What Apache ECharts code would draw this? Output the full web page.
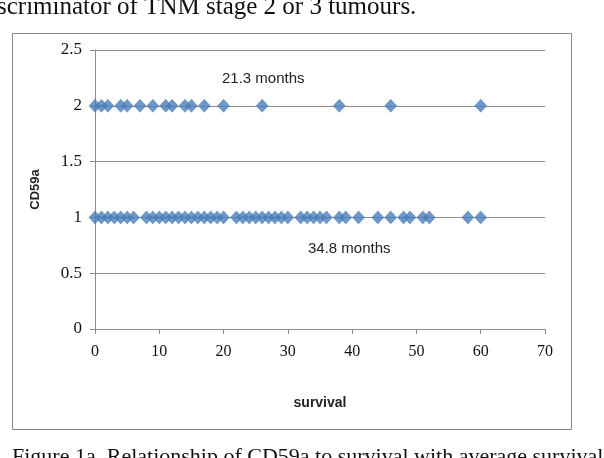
<!DOCTYPE html>
<html>
<head>
<meta charset="utf-8">
<script src="https://cdn.jsdelivr.net/npm/echarts@6/dist/echarts.min.js"></script>
<style>
html,body{margin:0;padding:0;background:#fff;}
#c{width:604px;height:458px;}
</style>
</head>
<body>
<div id="c"></div>
<script>
// survival (months) of cases with CD59a = 2
const survivalCD59a2 = [0, 1, 2, 4, 5, 7, 9, 11, 12, 14, 15, 17, 20, 26, 38, 46, 60];
// survival (months) of cases with CD59a = 1
const survivalCD59a1 = [0, 1, 2, 3, 4, 5, 6, 8, 9, 10, 11, 12, 13, 14, 15, 16, 17, 18, 19, 20,
  22, 23, 24, 25, 26, 27, 28, 29, 30, 32, 33, 34, 35, 36, 38, 39, 41, 44, 46, 48, 49, 51, 52, 58, 60];
const xTicks = [0, 10, 20, 30, 40, 50, 60, 70];
const yTicks = [0, 0.5, 1, 1.5, 2, 2.5];
const annotations = ["21.3 months", "34.8 months"];
const xTitle = "survival";
const yTitle = "CD59a";
const topText = "scriminator of TNM stage 2 or 3 tumours.";
const captionText = "Figure 1a. Relationship of CD59a to survival with average survival se";

const points = survivalCD59a2.map(v => [v, 2]).concat(survivalCD59a1.map(v => [v, 1]));

const chart = echarts.init(document.getElementById('c'), null, {renderer: 'canvas'});
const axisGray = '#8c8c8c';
chart.setOption({
  animation: false,
  backgroundColor: '#fff',
  grid: {left: 95, right: 59, top: 50, bottom: 129, containLabel: false},
  xAxis: {
    type: 'value', min: xTicks[0], max: xTicks[xTicks.length - 1], interval: 10,
    name: xTitle, nameLocation: 'middle', nameGap: 67,
    nameTextStyle: {fontFamily: 'Liberation Sans', fontWeight: 'bold', fontSize: 14, color: '#222'},
    axisLine: {show: true, onZero: false, lineStyle: {color: axisGray, width: 1}},
    axisTick: {show: true, inside: false, length: 5, lineStyle: {color: axisGray}},
    axisLabel: {margin: 15, fontFamily: 'Liberation Serif', fontSize: 16, color: '#111'},
    splitLine: {show: false}
  },
  yAxis: {
    type: 'value', min: yTicks[0], max: yTicks[yTicks.length - 1], interval: 0.5,
    name: yTitle, nameLocation: 'middle', nameGap: 53, nameRotate: 90,
    nameTextStyle: {fontFamily: 'Liberation Sans', fontWeight: 'bold', fontSize: 13, color: '#222'},
    axisLine: {show: true, lineStyle: {color: axisGray, width: 1}},
    axisTick: {show: true, inside: false, length: 5, lineStyle: {color: axisGray}},
    axisLabel: {margin: 13, fontFamily: 'Liberation Serif', fontSize: 17, color: '#111'},
    splitLine: {show: true, lineStyle: {color: axisGray, width: 1}}
  },
  series: [{
    type: 'scatter',
    data: points,
    symbol: 'diamond',
    symbolSize: [12, 13],
    itemStyle: {color: '#4a7ebb', borderColor: '#3d6fa8', borderWidth: 0.5}
  }],
  graphic: [
    {type: 'rect', shape: {x: 12.5, y: 33.5, width: 559, height: 396},
     style: {fill: 'none', stroke: '#888', lineWidth: 1}, z: -1},
    {type: 'text', left: 222, top: 71,
     style: {text: annotations[0], font: '15px "Liberation Sans"', fill: '#222'}},
    {type: 'text', left: 308, top: 241,
     style: {text: annotations[1], font: '15px "Liberation Sans"', fill: '#222'}},
    {type: 'text', x: -3, y: -5,
     style: {text: topText, font: '25px "Liberation Serif"', fill: '#111', textVerticalAlign: 'top'}},
    {type: 'text', x: 12, y: 446,
     style: {text: captionText, font: '22px "Liberation Serif"', fill: '#111', textVerticalAlign: 'top'}}
  ]
});
</script>
</body>
</html>
